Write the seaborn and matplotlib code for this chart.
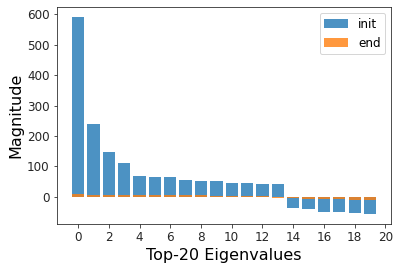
import numpy as np
import pandas as pd
import matplotlib
matplotlib.use("Agg")
import matplotlib.pyplot as plt
import seaborn as sns

indices = list(range(20))
init_vals = [592, 238, 146, 110, 70, 64, 64, 57, 51, 51, 44, 44, 41, 41,
             -38, -41, -51, -51, -54, -57]
end_vals = [10, 7, 7, 7, 7, 7, 7, 7, 7, 2, 3, 3, 3, -3,
            -4, -7, -7, -7, -10, -10]

DPI = 72
fig, ax = plt.subplots(figsize=(399 / DPI, 270 / DPI), dpi=DPI)
fig.subplots_adjust(left=0.142, right=0.981, bottom=0.170, top=0.975)
sns.barplot(x=indices, y=init_vals, color="C0", alpha=0.8, saturation=1,
            label="init", native_scale=True, ax=ax, linewidth=0)
sns.barplot(x=indices, y=end_vals, color="C1", alpha=0.8, saturation=1,
            label="end", native_scale=True, ax=ax, linewidth=0)
ax.set_xticks(range(0, 21, 2))
ax.tick_params(labelsize=12, colors="#262626", labelcolor="#262626")
for s in ax.spines.values():
    s.set_color("#262626")
ax.set_xlabel("Top-20 Eigenvalues", fontsize=16)
ax.set_ylabel("Magnitude", fontsize=16)
ax.legend(loc="upper right", fontsize=12)
fig.savefig("out.png", dpi=DPI)
